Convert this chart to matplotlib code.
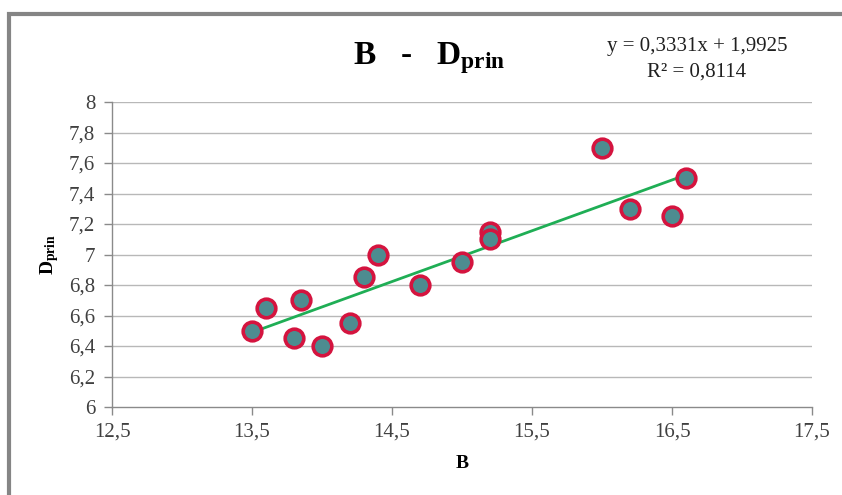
import matplotlib
matplotlib.use("Agg")
import matplotlib.pyplot as plt
from matplotlib.patches import Rectangle
import numpy as np

b_vals = [13.5, 13.6, 13.8, 13.85, 14.0, 14.2, 14.3, 14.4, 14.7, 15.0, 15.2, 15.2, 16.0, 16.2, 16.5, 16.6]
d_vals = [6.50, 6.65, 6.45, 6.70, 6.40, 6.55, 6.85, 7.00, 6.80, 6.95, 7.15, 7.10, 7.70, 7.30, 7.25, 7.50]
slope, intercept = 0.3331, 1.9925
x_ticks = [12.5, 13.5, 14.5, 15.5, 16.5, 17.5]
x_tick_labels = ["12,5", "13,5", "14,5", "15,5", "16,5", "17,5"]
y_ticks = [6.0, 6.2, 6.4, 6.6, 6.8, 7.0, 7.2, 7.4, 7.6, 7.8, 8.0]
y_tick_labels = ["6", "6,2", "6,4", "6,6", "6,8", "7", "7,2", "7,4", "7,6", "7,8", "8"]

plt.rcParams['font.family'] = ['Liberation Serif', 'DejaVu Serif']
plt.rcParams['mathtext.fontset'] = 'custom'
plt.rcParams['mathtext.rm'] = 'Liberation Serif'
plt.rcParams['mathtext.bf'] = 'Liberation Serif:bold'
plt.rcParams['mathtext.it'] = 'Liberation Serif:italic'

W, H = 842, 495
fig = plt.figure(figsize=(W / 100, H / 100), dpi=100)
fig.patch.set_facecolor('white')

# outer chart border (cropped at right/bottom)
fig.add_artist(Rectangle((9 / W, -0.1), 1.2, 1.1 - 14 / H, transform=fig.transFigure,
                         fill=False, edgecolor='#858585', linewidth=3))

ax = fig.add_axes([112 / W, 1 - 407 / H, (812 - 112) / W, (407 - 102) / H])
ax.set_xlim(12.5, 17.5)
ax.set_ylim(6, 8)

for yv in y_ticks[1:]:
    ax.axhline(yv, color='#b8b8b8', linewidth=1, zorder=0)

xs = np.array([min(b_vals), max(b_vals)])
ax.plot(xs, slope * xs + intercept, color='#1fae55', linewidth=2, zorder=2)
ax.scatter(b_vals, d_vals, s=180, facecolor='#4d8c90', edgecolor='#d4143f', linewidth=2.6, zorder=3)

ax.set_xticks(x_ticks)
ax.set_xticklabels(x_tick_labels)
ax.set_yticks(y_ticks)
ax.set_yticklabels(y_tick_labels)
ax.tick_params(axis='both', labelsize=15, colors='#8a8a8a', labelcolor='#404040', length=6, width=1)
ax.tick_params(axis='x', pad=5)
ax.tick_params(axis='y', pad=6)
for s in ['top', 'right']:
    ax.spines[s].set_visible(False)
for s in ['left', 'bottom']:
    ax.spines[s].set_color('#8a8a8a')
    ax.spines[s].set_linewidth(1)

ax.set_xlabel("B", fontsize=14, fontweight='bold', labelpad=10)
ax.set_ylabel(r"D$_{\mathbf{prin}}$", fontsize=14, fontweight='bold', labelpad=6)

fig.text(429 / W, 1 - 58 / H, r"B   -   D$_{\mathbf{prin}}$", fontsize=24, fontweight='bold',
         ha='center', va='center')
fig.text(697 / W, 1 - 46 / H, "y = 0,3331x + 1,9925", fontsize=15, ha='center', va='center', color='#202020')
fig.text(697 / W, 1 - 72 / H, "R² = 0,8114", fontsize=15, ha='center', va='center', color='#202020')

fig.savefig("out.png", dpi=100, facecolor='white')
